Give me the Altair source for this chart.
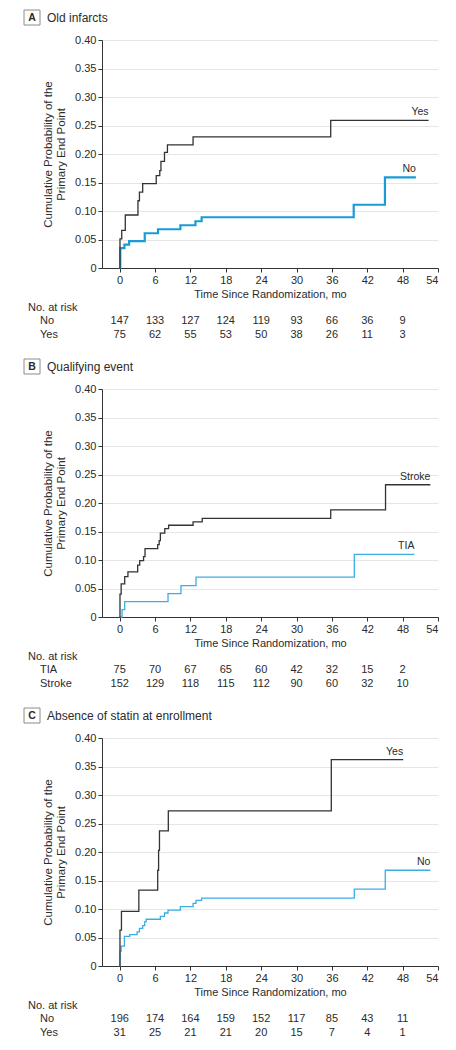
import altair as alt
import pandas as pd

FONT = "Liberation Sans, Arial, sans-serif"
TXT = "#2b2b2b"
BLACK_LINE = "#333333"

MONTH_TICKS = [0, 6, 12, 18, 24, 30, 36, 42, 48, 54]
RISK_TIMES = [0, 6, 12, 18, 24, 30, 36, 42, 48]
Y_TICKS = [0, 0.05, 0.10, 0.15, 0.20, 0.25, 0.30, 0.35, 0.40]

# ---------------- Panel A: Old infarcts ----------------
A_LETTER = "A"
A_TITLE = "Old infarcts"
A_BLUE_NAME = "No"
A_BLUE_T = [0, 0.1, 0.8, 1.6, 4.25, 6.5, 10.3, 12.85, 13.9, 39.7, 45.0, 50.25]
A_BLUE_V = [0, 0.035, 0.041, 0.047, 0.061, 0.068, 0.075, 0.082, 0.089, 0.111, 0.159, 0.159]
A_BLACK_NAME = "Yes"
A_BLACK_T = [0, 0.05, 0.35, 0.95, 3.1, 3.35, 3.9, 6.2, 6.8, 7.0, 7.6, 8.1, 12.45, 35.8, 52.4]
A_BLACK_V = [0, 0.051, 0.066, 0.093, 0.118, 0.133, 0.148, 0.162, 0.171, 0.187, 0.203, 0.216, 0.230, 0.259, 0.259]
A_RISK_BLUE = [147, 133, 127, 124, 119, 93, 66, 36, 9]
A_RISK_BLACK = [75, 62, 55, 53, 50, 38, 26, 11, 3]

# ---------------- Panel B: Qualifying event ----------------
B_LETTER = "B"
B_TITLE = "Qualifying event"
B_BLUE_NAME = "TIA"
B_BLUE_T = [0, 0.4, 0.85, 8.2, 10.4, 12.95, 39.8, 50.0]
B_BLUE_V = [0, 0.013, 0.027, 0.041, 0.055, 0.070, 0.110, 0.110]
B_BLACK_NAME = "Stroke"
B_BLACK_T = [0, 0.05, 0.25, 0.85, 1.4, 3.05, 3.4, 4.05, 4.3, 6.45, 6.7, 6.9, 7.65, 8.3, 12.45, 14.0, 35.8, 45.1, 52.7]
B_BLACK_V = [0, 0.040, 0.058, 0.071, 0.079, 0.091, 0.099, 0.106, 0.120, 0.127, 0.134, 0.147, 0.155, 0.161, 0.167, 0.173, 0.188, 0.232, 0.232]
B_RISK_BLUE = [75, 70, 67, 65, 60, 42, 32, 15, 2]
B_RISK_BLACK = [152, 129, 118, 115, 112, 90, 60, 32, 10]

# ---------------- Panel C: Absence of statin at enrollment ----------------
C_LETTER = "C"
C_TITLE = "Absence of statin at enrollment"
C_BLUE_NAME = "No"
C_BLUE_T = [0, 0.05, 0.25, 0.8, 1.7, 2.95, 3.35, 3.9, 4.25, 4.5, 6.9, 7.6, 8.2, 10.3, 12.45, 12.95, 13.9, 39.8, 45.05, 52.7]
C_BLUE_V = [0, 0.026, 0.035, 0.052, 0.055, 0.060, 0.066, 0.071, 0.078, 0.082, 0.087, 0.093, 0.098, 0.104, 0.110, 0.115, 0.119, 0.135, 0.168, 0.168]
C_BLACK_NAME = "Yes"
C_BLACK_T = [0, 0.05, 0.3, 3.25, 6.45, 6.6, 6.75, 8.25, 35.9, 48.1]
C_BLACK_V = [0, 0.063, 0.096, 0.133, 0.168, 0.203, 0.237, 0.272, 0.362, 0.362]
C_RISK_BLUE = [196, 174, 164, 159, 152, 117, 85, 43, 11]
C_RISK_BLACK = [31, 25, 21, 21, 20, 15, 7, 4, 1]

PLOT_W = 336
PLOT_H = 228

x_scale = alt.Scale(domain=[-3, 54], nice=False, zero=False)
y_scale = alt.Scale(domain=[0, 0.4], nice=False)

x_axis = alt.Axis(
    values=MONTH_TICKS, grid=False, tickSize=4, labelPadding=2,
    domainColor="#333", tickColor="#333", labelColor=TXT,
    labelFont=FONT, labelFontSize=11,
    title="Time Since Randomization, mo", titleFont=FONT, titleFontSize=11,
    titleFontWeight="normal", titleColor=TXT, titlePadding=3,
)
y_axis = alt.Axis(
    values=Y_TICKS, grid=True, gridColor="#e6e6e6", gridWidth=1,
    tickSize=4, labelPadding=2,
    domainColor="#333", tickColor="#333", labelColor=TXT,
    labelFont=FONT, labelFontSize=11,
    labelExpr="datum.value == 0 ? '0' : format(datum.value, '.2f')",
    title=["Cumulative Probability of the", "Primary End Point"],
    titleFont=FONT, titleFontSize=11.5, titleFontWeight="normal",
    titleColor=TXT, titlePadding=8, titleLineHeight=13,
)

X = alt.X("t:Q", scale=x_scale, axis=x_axis)
Y = alt.Y("v:Q", scale=y_scale, axis=y_axis)


def static_text(label, x, y, size=11, weight="normal", align="left"):
    return alt.Chart(pd.DataFrame({"label": [label]})).mark_text(
        font=FONT, fontSize=size, fontWeight=weight, align=align,
        baseline="middle", color=TXT,
    ).encode(x=alt.value(x), y=alt.value(y), text="label:N")


def panel(letter, title, blue_name, bt, bv, bw, bcol, black_name, kt, kv,
          risk_blue, risk_black):
    blue = alt.Chart(pd.DataFrame({"t": bt, "v": bv})).mark_line(
        interpolate="step-after", color=bcol, strokeWidth=bw
    ).encode(x=X, y=Y)
    black = alt.Chart(pd.DataFrame({"t": kt, "v": kv})).mark_line(
        interpolate="step-after", color=BLACK_LINE, strokeWidth=1.3
    ).encode(x=X, y=Y)
    lab_df = pd.DataFrame({
        "t": [bt[-1], kt[-1]],
        "v": [bv[-1], kv[-1]],
        "label": [blue_name, black_name],
    })
    labels = alt.Chart(lab_df).mark_text(
        font=FONT, fontSize=10.5, align="right", baseline="alphabetic",
        dy=-5, color=TXT,
    ).encode(x=X, y=Y, text="label:N")

    r1 = alt.Chart(pd.DataFrame({"t": RISK_TIMES, "n": risk_blue})).mark_text(
        font=FONT, fontSize=11, baseline="middle", color=TXT
    ).encode(x=X, y=alt.value(281), text=alt.Text("n:Q", format="d"))
    r2 = alt.Chart(pd.DataFrame({"t": RISK_TIMES, "n": risk_black})).mark_text(
        font=FONT, fontSize=11, baseline="middle", color=TXT
    ).encode(x=X, y=alt.value(294.5), text=alt.Text("n:Q", format="d"))

    box = alt.Chart(pd.DataFrame({"label": [letter]})).mark_rect(
        fill="white", stroke="#8c8c8c", strokeWidth=1
    ).encode(x=alt.value(-78), x2=alt.value(-62), y=alt.value(-30), y2=alt.value(-15))

    layers = [
        blue, black, labels, r1, r2, box,
        static_text(letter, -70, -22.5, size=10.5, weight="bold", align="center"),
        static_text(title, -55, -22.5, size=12),
        static_text("No. at risk", -74, 267.5),
        static_text(blue_name, -62, 281),
        static_text(black_name, -62, 294.5),
    ]
    return alt.layer(*layers).properties(width=PLOT_W, height=PLOT_H)


pA = panel(A_LETTER, A_TITLE, A_BLUE_NAME, A_BLUE_T, A_BLUE_V, 2.2, "#1b9ad8",
           A_BLACK_NAME, A_BLACK_T, A_BLACK_V, A_RISK_BLUE, A_RISK_BLACK)
pB = panel(B_LETTER, B_TITLE, B_BLUE_NAME, B_BLUE_T, B_BLUE_V, 1.3, "#3aaee4",
           B_BLACK_NAME, B_BLACK_T, B_BLACK_V, B_RISK_BLUE, B_RISK_BLACK)
pC = panel(C_LETTER, C_TITLE, C_BLUE_NAME, C_BLUE_T, C_BLUE_V, 1.3, "#3aaee4",
           C_BLACK_NAME, C_BLACK_T, C_BLACK_V, C_RISK_BLUE, C_RISK_BLACK)

chart = alt.vconcat(pA, pB, pC, spacing=121, bounds="flush").properties(
    padding={"left": 15, "top": 1, "right": 2, "bottom": 2},
    background="white",
).configure_view(stroke=None)

chart.save("out.html", embed_options={"renderer": "svg", "actions": False})
